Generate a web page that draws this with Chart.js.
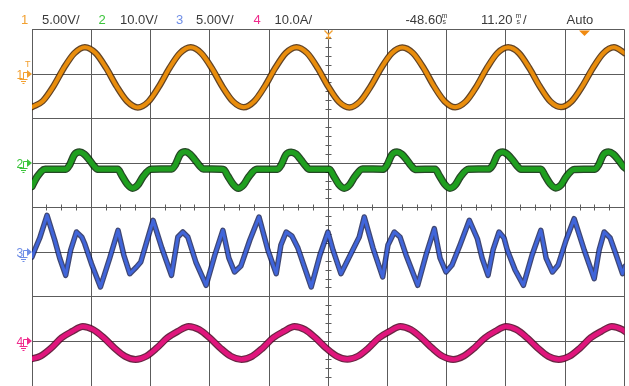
<!DOCTYPE html>
<html><head><meta charset="utf-8">
<script src="https://cdn.jsdelivr.net/npm/chart.js@4"></script>
<style>html,body{margin:0;padding:0;background:#fff;overflow:hidden}#wrap{width:629px;height:386px;position:relative}</style>
</head><body><div id="wrap"><canvas id="c" width="629" height="386"></canvas></div>
<script>
// ---- axes (ms, divisions) ----
const timeTicks = [-104.6,-93.4,-82.2,-71.0,-59.8,-48.6,-37.4,-26.2,-15.0,-3.8,7.4];
const levelTicks = [-4,-3,-2,-1,0,1,2,3,4];
const minorPerTimeDiv = 4;
const minorPerLevelDiv = 5;

// ---- header texts ----
const channelNames = ['1','2','3','4'];
const channelScaleLabels = ['5.00V/','10.0V/','5.00V/','10.0A/'];
const delayLabel = '-48.60';
const timebaseLabel = '11.20';
const triggerModeLabel = 'Auto';

// ---- channel settings ----
const channelScales = [5, 10, 5, 10];     // units per division
const channelOffsets = [3, 1, -1, -3];    // ground level, in divisions

// ---- channel 1 (V) ----
const ch1Times = [-104.6,-102.6,-100.6,-98.6,-96.6,-94.6,-92.6,-90.6,-88.6,-86.6,-84.6,-82.6,-80.6,-78.6,-76.6,-74.6,-72.6,-70.6,-68.6,-66.6,-64.6,-62.6,-60.6,-58.6,-56.6,-54.6,-52.6,-50.6,-48.6,-46.6,-44.6,-42.6,-40.6,-38.6,-36.6,-34.6,-32.6,-30.6,-28.6,-26.6,-24.6,-22.6,-20.6,-18.6,-16.6,-14.6,-12.6,-10.6,-8.6,-6.6,-4.6,-2.6,-0.6,1.4,3.4,5.4,7.4];
const ch1Volts = [-3.70,-3.05,-1.42,0.66,2.34,3.02,2.38,0.70,-1.38,-3.06,-3.74,-3.10,-1.40,0.68,2.36,3.00,2.34,0.66,-1.42,-3.08,-3.72,-3.06,-1.38,0.70,2.38,3.02,2.36,0.68,-1.40,-3.10,-3.74,-3.08,-1.40,0.66,2.34,2.98,2.36,0.70,-1.38,-3.06,-3.72,-3.08,-1.42,0.68,2.36,3.00,2.38,0.68,-1.40,-3.08,-3.70,-3.06,-1.40,0.66,2.34,3.00,2.36];

// ---- channel 2 (V) ----
const ch2Times = [-104.6,-103.6,-102.1,
 -98.2,-97.5,-96.6,-95.6,-94.7,-93.8,-92.9,-92.2,-88.4,-87.6,-86.6,-85.6,-84.6,-83.6,-82.1,
 -78.2,-77.5,-76.6,-75.6,-74.7,-73.8,-72.9,-72.2,-68.4,-67.6,-66.6,-65.6,-64.6,-63.6,-62.1,
 -58.2,-57.5,-56.6,-55.6,-54.7,-53.8,-52.9,-52.2,-48.4,-47.6,-46.6,-45.6,-44.6,-43.6,-42.1,
 -38.2,-37.5,-36.6,-35.6,-34.7,-33.8,-32.9,-32.2,-28.4,-27.6,-26.6,-25.6,-24.6,-23.6,-22.1,
 -18.2,-17.5,-16.6,-15.6,-14.7,-13.8,-12.9,-12.2,-8.4,-7.6,-6.6,-5.6,-4.6,-3.6,-2.1,
 1.8,2.5,3.4,4.4,5.3,6.2,7.1,7.8];
const ch2Volts = [-5.2,-3.0,-1.35,
 -1.35,-0.4,1.9,2.5,2.0,0.8,-0.6,-1.35,-1.35,-2.8,-4.7,-5.6,-4.9,-3.0,-1.35,
 -1.30,-0.35,1.95,2.55,2.0,0.75,-0.6,-1.30,-1.40,-2.85,-4.7,-5.65,-4.85,-3.0,-1.35,
 -1.35,-0.4,1.9,2.45,2.05,0.8,-0.55,-1.35,-1.35,-2.8,-4.75,-5.6,-4.9,-3.05,-1.30,
 -1.35,-0.45,1.85,2.5,2.0,0.8,-0.6,-1.40,-1.35,-2.8,-4.7,-5.6,-4.9,-3.0,-1.35,
 -1.30,-0.4,1.9,2.5,1.95,0.8,-0.6,-1.35,-1.35,-2.85,-4.7,-5.55,-4.9,-3.0,-1.40,
 -1.35,-0.4,1.9,2.5,2.0,0.8,-0.6,-1.35];

// ---- channel 3 (V) ----
const ch3Times = [-104.60,-104.09,-103.14,-101.76,-100.31,-99.37,-98.23,-97.29,-96.20,-95.20,-94.63,-93.36,-91.66,-89.90,-88.33,-87.25,-86.12,-84.85,-84.04,-81.71,-80.06,-78.23,-77.03,-76.09,-75.14,-73.63,-71.68,-70.04,-68.52,-67.39,-66.31,-65.12,-63.42,-61.69,-59.99,-58.44,-57.55,-56.55,-55.47,-54.33,-51.82,-50.17,-48.66,-47.71,-46.20,-44.63,-42.74,-41.79,-40.14,-38.31,-37.31,-36.11,-35.04,-33.90,-31.69,-30.12,-28.55,-27.47,-26.34,-25.20,-23.69,-21.93,-20.41,-19.52,-18.39,-17.45,-16.31,-15.37,-14.74,-13.28,-11.71,-10.07,-8.42,-7.42,-6.22,-5.14,-3.63,-2.12,-0.22,1.67,2.61,3.56,4.70,5.83,7.03,7.54];
const ch3Volts = [-0.53,0.26,1.60,4.15,1.38,-0.64,-2.58,0.26,2.28,1.72,0.96,-1.28,-3.89,-0.64,2.47,-0.30,-2.40,-1.65,-1.09,3.59,0.48,-2.58,1.72,2.28,1.72,-1.09,-3.70,-0.30,2.47,-0.64,-2.21,-1.54,1.38,3.96,0.22,-2.40,0.82,2.28,1.83,0.48,-3.89,-0.30,2.28,0.26,-2.40,-0.53,1.72,3.96,0.48,-2.77,0.82,2.28,1.72,-0.30,-3.70,-0.30,2.65,-0.64,-2.21,-1.42,0.82,3.59,1.52,-0.64,-2.58,0.26,2.28,1.60,0.22,-1.98,-3.70,-0.30,2.47,-0.64,-2.21,-1.42,1.38,3.77,0.26,-2.96,0.26,2.28,1.60,-0.30,-2.40,-1.54];

// ---- channel 4 (A) ----
const ch4Times = [-105,-103,-101,-99,-97,-95,-93,-91,-89,-87,-85,-83,-81,-79,-77,-75,-73,-71,-69,-67,-65,-63,-61,-59,-57,-55,-53,-51,-49,-47,-45,-43,-41,-39,-37,-35,-33,-31,-29,-27,-25,-23,-21,-19,-17,-15,-13,-11,-9,-7,-5,-3,-1,1,3,5,7,9];
const ch4Amps = [-4.02,-3.30,-1.50,0.82,2.25,3.36,2.62,0.78,-1.50,-3.35,-4.05,-3.32,-1.46,0.80,2.28,3.38,2.66,0.80,-1.48,-3.33,-4.04,-3.34,-1.48,0.82,2.24,3.34,2.64,0.78,-1.50,-3.31,-4.02,-3.33,-1.50,0.80,2.26,3.36,2.66,0.82,-1.46,-3.33,-4.06,-3.30,-1.48,0.78,2.28,3.36,2.64,0.80,-1.48,-3.34,-4.04,-3.32,-1.48,0.80,2.26,3.38,2.64,0.80];

// ---- styling ----
const traceColors = ['#e98d0c','#1f9f1f','#4065da','#e0157c'];
const traceEdges  = ['rgba(70,35,0,0.85)','rgba(0,40,0,0.85)','rgba(15,25,80,0.8)','rgba(80,0,35,0.85)'];
const traceWidths = [4, 5, 3, 4.5];
const edgeWidths  = [6.5, 7.5, 5.5, 7];
const markerColors = ['#f2a030','#3cc43c','#6f8ee6','#ef2a8c'];
const gridColor = '#5c5c5c';
const textColor = '#3a3a3a';

const series = [[ch1Times,ch1Volts],[ch2Times,ch2Volts],[ch3Times,ch3Volts],[ch4Times,ch4Amps]];
const datasets = [];
series.forEach(([ts, vs], ch) => {
  const data = ts.map((t, i) => ({x: t, y: vs[i] / channelScales[ch] + channelOffsets[ch]}));
  const smooth = ch === 2 ? {tension: 0} : {cubicInterpolationMode: 'monotone'};
  datasets.push(Object.assign({data, borderColor: traceColors[ch], borderWidth: traceWidths[ch], pointRadius: 0, order: 1, clip: 0, borderJoinStyle: 'round', borderCapStyle: 'round'}, smooth));
  datasets.push(Object.assign({data, borderColor: traceEdges[ch], borderWidth: edgeWidths[ch], pointRadius: 0, order: 2, clip: 0, borderJoinStyle: 'round', borderCapStyle: 'round'}, smooth));
});

const align = p => Math.round(p - 0.5) + 0.5;

const scopeDecor = {
  id: 'scopeDecor',
  beforeDatasetsDraw(chart) {
    const {ctx, scales: {x, y}} = chart;
    ctx.save();
    ctx.strokeStyle = gridColor; ctx.lineWidth = 1;
    const cx = align(x.getPixelForValue(timeTicks[5]));
    const cy = align(y.getPixelForValue(0));
    ctx.beginPath();
    for (let i = 0; i < timeTicks.length - 1; i++) {
      for (let k = 1; k < minorPerTimeDiv; k++) {
        const t = timeTicks[i] + (timeTicks[i+1] - timeTicks[i]) * k / minorPerTimeDiv;
        const px = align(x.getPixelForValue(t));
        ctx.moveTo(px, cy - 3); ctx.lineTo(px, cy + 3);
      }
    }
    for (let i = 0; i < levelTicks.length - 1; i++) {
      for (let k = 1; k < minorPerLevelDiv; k++) {
        const v = levelTicks[i] + (levelTicks[i+1] - levelTicks[i]) * k / minorPerLevelDiv;
        const py = align(y.getPixelForValue(v));
        ctx.moveTo(cx - 3, py); ctx.lineTo(cx + 3, py);
      }
    }
    ctx.stroke();
    ctx.restore();
  },
  afterDraw(chart) {
    const {ctx, scales: {x, y}} = chart;
    ctx.save();
    ctx.textBaseline = 'alphabetic'; ctx.textAlign = 'left';
    ctx.font = '13px "Liberation Sans", Arial, sans-serif';
    const nameX = [21, 98.5, 176, 253.5];
    const scaleX = [42, 120, 196, 274.5];
    for (let i = 0; i < 4; i++) {
      ctx.fillStyle = markerColors[i];
      ctx.fillText(channelNames[i], nameX[i], 24);
      ctx.fillStyle = textColor;
      ctx.fillText(channelScaleLabels[i], scaleX[i], 24);
    }
    ctx.fillStyle = textColor;
    ctx.fillText(delayLabel, 405.5, 24);
    ctx.fillText(timebaseLabel, 481, 24);
    ctx.fillText('/', 523, 24);
    ctx.fillText(triggerModeLabel, 566.5, 24);
    ctx.font = '7px "Liberation Sans", Arial, sans-serif';
    ctx.fillText('m', 441.5, 18); ctx.fillText('s', 442.5, 24);
    ctx.fillText('m', 515.5, 18); ctx.fillText('s', 516.5, 24);

    // ground markers on the left
    for (let i = 0; i < 4; i++) {
      const gy = Math.round(y.getPixelForValue(channelOffsets[i]));
      const c = markerColors[i];
      ctx.fillStyle = c; ctx.strokeStyle = c; ctx.lineWidth = 1;
      ctx.font = '12px "Liberation Sans", Arial, sans-serif';
      ctx.fillText(channelNames[i], 16.5, gy + 4.5);
      ctx.beginPath();
      ctx.moveTo(23.5, gy + 3); ctx.lineTo(23.5, gy - 1.5); ctx.lineTo(27, gy - 1.5);
      ctx.moveTo(23.5, gy + 3); ctx.lineTo(23.5, gy + 5.5);
      ctx.moveTo(19.5, gy + 5.5); ctx.lineTo(27.5, gy + 5.5);
      ctx.moveTo(21, gy + 7.5); ctx.lineTo(26, gy + 7.5);
      ctx.moveTo(22.5, gy + 9.5); ctx.lineTo(24.5, gy + 9.5);
      ctx.stroke();
      ctx.beginPath();
      ctx.moveTo(27, gy - 4); ctx.lineTo(32, gy); ctx.lineTo(27, gy + 4); ctx.closePath();
      ctx.fill();
    }
    // trigger level "T" for channel 1
    const g1 = Math.round(y.getPixelForValue(channelOffsets[0]));
    ctx.fillStyle = markerColors[0];
    ctx.font = '9px "Liberation Sans", Arial, sans-serif';
    ctx.fillText('T', 25, g1 - 7.5);

    // trigger position marker (top centre) and right marker
    const cx = align(x.getPixelForValue(timeTicks[5]));
    const top = chart.chartArea.top;
    ctx.strokeStyle = markerColors[0]; ctx.lineWidth = 1.3;
    ctx.beginPath();
    ctx.moveTo(cx - 4, top + 1); ctx.lineTo(cx, top + 5); ctx.lineTo(cx + 4, top + 1);
    ctx.moveTo(cx, top + 5); ctx.lineTo(cx, top + 10);
    ctx.moveTo(cx - 2.5, top + 8); ctx.lineTo(cx + 2.5, top + 8);
    ctx.stroke();
    ctx.fillStyle = '#f08a10';
    ctx.beginPath();
    ctx.moveTo(579, top + 1); ctx.lineTo(590, top + 1); ctx.lineTo(584.5, top + 6.5); ctx.closePath();
    ctx.fill();
    ctx.restore();
  }
};

new Chart(document.getElementById('c'), {
  type: 'line',
  data: {datasets},
  options: {
    responsive: false, animation: false, devicePixelRatio: 1,
    layout: {padding: {left: 32, right: 4.5, top: 29.5, bottom: 0}},
    plugins: {legend: {display: false}, tooltip: {enabled: false}},
    scales: {
      x: {type: 'linear', min: timeTicks[0], max: timeTicks[timeTicks.length - 1],
          afterBuildTicks: ax => { ax.ticks = timeTicks.map(v => ({value: v})); },
          ticks: {display: false}, grid: {color: gridColor, lineWidth: 1, drawTicks: false},
          border: {display: true, color: gridColor}},
      y: {type: 'linear', min: levelTicks[0], max: levelTicks[levelTicks.length - 1],
          afterBuildTicks: ax => { ax.ticks = levelTicks.map(v => ({value: v})); },
          ticks: {display: false}, grid: {color: gridColor, lineWidth: 1, drawTicks: false},
          border: {display: true, color: gridColor}}
    }
  },
  plugins: [scopeDecor]
});
</script>
</body></html>
